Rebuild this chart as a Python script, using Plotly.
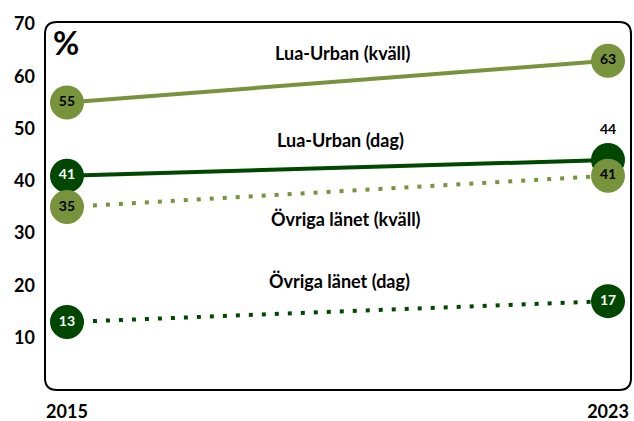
import plotly.graph_objects as go

years = [2015, 2023]
lua_kvall = [55, 63]
lua_dag = [41, 44]
ovriga_kvall = [35, 41]
ovriga_dag = [13, 17]
series_names = ["Lua-Urban (kväll)", "Lua-Urban (dag)", "Övriga länet (kväll)", "Övriga länet (dag)"]
y_ticks = [10, 20, 30, 40, 50, 60, 70]

LIGHT = "#77933C"
DARK = "#004700"
FONT = "Lato"

fig = go.Figure()

def add(vals, color, dash, txtcolor, positions=None, txtcolors=None):
    fig.add_trace(go.Scatter(
        x=years, y=vals, mode="lines+markers+text",
        line=dict(color=color, width=4, dash=dash),
        marker=dict(size=34, color=color),
        text=[str(v) for v in vals],
        textposition=positions or "middle center",
        textfont=dict(family=FONT, size=14, color=txtcolors or txtcolor, weight="bold"),
        cliponaxis=False, showlegend=False, hoverinfo="skip"))

add(lua_dag, DARK, "solid", "white", ["middle center", "top center"], ["white", "black"])
add(ovriga_dag, DARK, "4px,9px", "white")
add(lua_kvall, LIGHT, "solid", "black")
add(ovriga_kvall, LIGHT, "4px,9px", "black")

rx, ry = 12 / 586, 12 / 368
path = (f"M {rx},0 L {1-rx},0 Q 1,0 1,{ry} L 1,{1-ry} Q 1,1 {1-rx},1 "
        f"L {rx},1 Q 0,1 0,{1-ry} L 0,{ry} Q 0,0 {rx},0 Z")
fig.add_shape(type="path", path=path, xref="paper", yref="paper",
              line=dict(color="black", width=2), layer="below")

label_pos = [(0.508, 0.916), (0.504, 0.678), (0.513, 0.466), (0.502, 0.297)]
for name, (px, py) in zip(series_names, label_pos):
    fig.add_annotation(text=name, x=px, y=py, xref="paper", yref="paper",
                       xanchor="center", yanchor="middle", showarrow=False,
                       font=dict(family=FONT, size=18, color="black", weight="bold"))
fig.add_annotation(text="%", x=0.036, y=0.945, xref="paper", yref="paper",
                   xanchor="center", yanchor="middle", showarrow=False,
                   font=dict(family=FONT, size=32, color="black", weight="bold"))

fig.update_layout(
    width=634, height=421,
    margin=dict(l=45, r=3, t=22, b=31),
    paper_bgcolor="white", plot_bgcolor="white",
    xaxis=dict(range=[2014.675, 2023.34], tickvals=years, ticktext=[str(y) for y in years],
               showgrid=False, zeroline=False, showline=False, ticks="",
               ticklabelstandoff=9, automargin=False,
               tickfont=dict(family=FONT, size=18, color="black", weight="bold")),
    yaxis=dict(range=[0, 70.4], tickvals=y_ticks, showgrid=False, zeroline=False,
               showline=False, ticks="", ticklabelstandoff=9, automargin=False,
               tickfont=dict(family=FONT, size=18, color="black", weight="bold")),
)

fig.write_html("out.html", config={"displayModeBar": False},
               post_script="document.body.style.margin='0';")
